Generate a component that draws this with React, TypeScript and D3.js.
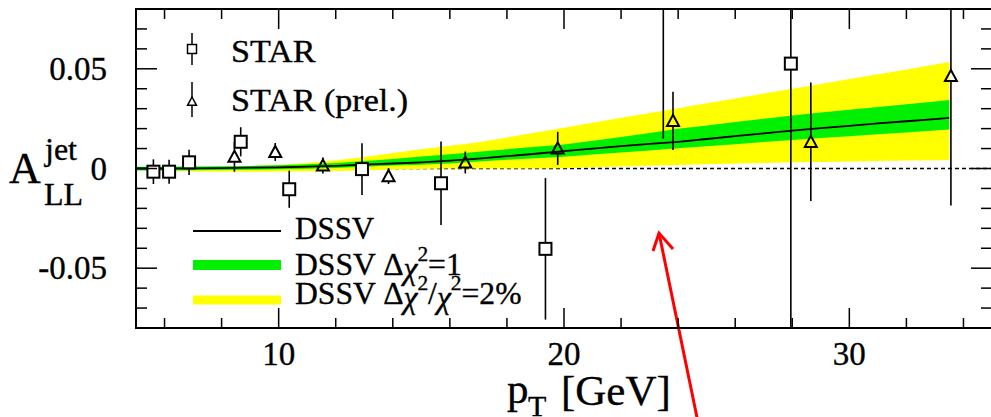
import React, { useEffect, useRef } from 'react';
import * as d3 from 'd3';

// DSSV prediction, read per GeV
const curvePt = [5, 6, 7, 8, 9, 10, 11, 12, 13, 14, 15, 16, 17, 18, 19, 20, 21, 22, 23, 24, 25, 26, 27, 28, 29, 30, 31, 32, 33, 33.5];
const curveMid = [0, 0, 0.0001, 0.0002, 0.0004, 0.0006, 0.0009, 0.0013, 0.0019, 0.0025, 0.0031, 0.004, 0.005, 0.0062, 0.0074, 0.0087, 0.01, 0.0112, 0.0123, 0.0134, 0.0148, 0.0162, 0.0176, 0.019, 0.0202, 0.0214, 0.0226, 0.0237, 0.0248, 0.0254];
const greenHi = [0.0009, 0.0009, 0.001, 0.0011, 0.0013, 0.0016, 0.0021, 0.0028, 0.0037, 0.0048, 0.006, 0.0072, 0.0084, 0.0097, 0.0109, 0.0121, 0.0139, 0.0158, 0.0178, 0.0199, 0.0216, 0.0233, 0.025, 0.0266, 0.0281, 0.0295, 0.0309, 0.0322, 0.0336, 0.0343];
const greenLo = [-0.001, -0.001, -0.0009, -0.0008, -0.0006, -0.0004, -0.0001, 0.0003, 0.0009, 0.0015, 0.0019, 0.0025, 0.0035, 0.0044, 0.0052, 0.0059, 0.007, 0.008, 0.009, 0.0101, 0.0112, 0.0122, 0.0133, 0.0143, 0.0153, 0.0162, 0.0172, 0.0181, 0.019, 0.0196];
const yellowHi = [0.0005, 0.0005, 0.0006, 0.0008, 0.0012, 0.0018, 0.0028, 0.0042, 0.0058, 0.0078, 0.0097, 0.0114, 0.0132, 0.0156, 0.0181, 0.0205, 0.0229, 0.0254, 0.0278, 0.0302, 0.0327, 0.0351, 0.0376, 0.04, 0.0424, 0.0449, 0.0473, 0.0497, 0.0522, 0.0534];
const yellowLo = [-0.0008, -0.0009, -0.0015, -0.0016, -0.0016, -0.0015, -0.0014, -0.0012, -0.001, -0.0005, -0.0002, 0, 0, 0, 0, 0.0001, 0.0006, 0.001, 0.0014, 0.0018, 0.0021, 0.0025, 0.0028, 0.0031, 0.0033, 0.0035, 0.0038, 0.004, 0.0042, 0.0043];

// STAR (squares)
const starPt = [5.61, 6.16, 6.86, 8.67, 10.37, 12.92, 15.69, 19.35, 23.48, 27.95];
const starA = [-0.0016, -0.0016, 0.0031, 0.0134, -0.0104, -0.0003, -0.0074, -0.0403, 0.105, 0.0526];
const starErr = [0.0062, 0.006, 0.0063, 0.0073, 0.0093, 0.013, 0.021, 0.0355, 0.09, 0.14];

// STAR preliminary (triangles)
const prelPt = [8.45, 9.88, 11.55, 13.85, 16.54, 19.78, 23.82, 28.65, 33.56];
const prelA = [0.0059, 0.0083, 0.0015, -0.0038, 0.003, 0.0101, 0.0239, 0.0134, 0.0464];
const prelErr = [0.0075, 0.0045, 0.004, 0.004, 0.0055, 0.0083, 0.0146, 0.0297, 0.065];

const xMajor = [10, 20, 30];
const yMajor = [-0.05, 0, 0.05];
const yMajorLabels = ['-0.05', '0', '0.05'];

const FONT = "'Liberation Serif', 'Times New Roman', serif";

const App = () => {
    const ref = useRef<SVGSVGElement>(null);

    useEffect(() => {
        const svg = d3.select(ref.current);
        svg.selectAll('*').remove();

        const left = 136, right = 992, top = 9, bottom = 328;
        const x = d3.scaleLinear().domain([5, 35]).range([left, right]);
        const y = d3.scaleLinear().domain([-0.08, 0.08]).range([bottom, top]);

        svg.append('rect').attr('width', 991).attr('height', 417).attr('fill', '#fff');

        svg.append('defs').append('clipPath').attr('id', 'plotclip')
            .append('rect').attr('x', left).attr('y', top)
            .attr('width', right - left).attr('height', bottom - top);

        const plot = svg.append('g').attr('clip-path', 'url(#plotclip)');

        // zero line
        plot.append('line')
            .attr('x1', x(5)).attr('x2', x(35))
            .attr('y1', y(0)).attr('y2', y(0))
            .attr('stroke', '#000').attr('stroke-width', 1.3)
            .attr('stroke-dasharray', '4,3');

        const idx = d3.range(curvePt.length);

        const band = (lo: number[], hi: number[]) => d3.area<number>()
            .x(i => x(curvePt[i]))
            .y0(i => y(lo[i]))
            .y1(i => y(hi[i]));

        plot.append('path').attr('d', band(yellowLo, yellowHi)(idx)).attr('fill', '#ffff00');
        plot.append('path').attr('d', band(greenLo, greenHi)(idx)).attr('fill', '#00f000');

        const mid = d3.line<number>()
            .x(i => x(curvePt[i]))
            .y(i => y(curveMid[i]));
        plot.append('path').attr('d', mid(idx))
            .attr('fill', 'none').attr('stroke', '#000').attr('stroke-width', 1.8);

        // error bars, split around the marker
        const errBars = (pt: number[], a: number[], err: number[], halfUp: number, halfDown: number) => {
            pt.forEach((p, i) => {
                const cx = x(p), cy = y(a[i]);
                const yt = y(a[i] + err[i]), yb = y(a[i] - err[i]);
                if (yt < cy - halfUp) {
                    plot.append('line').attr('x1', cx).attr('x2', cx)
                        .attr('y1', yt).attr('y2', cy - halfUp)
                        .attr('stroke', '#000').attr('stroke-width', 1.6);
                }
                if (yb > cy + halfDown) {
                    plot.append('line').attr('x1', cx).attr('x2', cx)
                        .attr('y1', cy + halfDown).attr('y2', yb)
                        .attr('stroke', '#000').attr('stroke-width', 1.6);
                }
            });
        };
        errBars(starPt, starA, starErr, 6, 6);
        errBars(prelPt, prelA, prelErr, 6, 5);

        const sq = 12;
        plot.append('g').selectAll('rect')
            .data(starPt)
            .enter().append('rect')
            .attr('x', d => x(d) - sq / 2)
            .attr('y', (d, i) => y(starA[i]) - sq / 2)
            .attr('width', sq).attr('height', sq)
            .attr('fill', '#fff').attr('stroke', '#000').attr('stroke-width', 2);

        const tri = (cx: number, cy: number, s: number) =>
            `M${cx},${cy - s}L${cx + s},${cy + s * 0.85}L${cx - s},${cy + s * 0.85}Z`;

        plot.append('g').selectAll('path')
            .data(prelPt)
            .enter().append('path')
            .attr('d', (d, i) => tri(x(d), y(prelA[i]), 6))
            .attr('fill', 'none').attr('stroke', '#000').attr('stroke-width', 2);

        // red annotation arrow
        const tipX = x(23.33), tipY = y(-0.0324);
        const arrow = svg.append('g').attr('stroke', '#f00').attr('stroke-width', 3).attr('fill', 'none');
        arrow.append('line').attr('x1', x(24.75)).attr('y1', y(-0.131)).attr('x2', tipX).attr('y2', tipY);
        arrow.append('path').attr('d', `M${tipX - 6},${tipY + 18}L${tipX},${tipY}L${tipX + 14},${tipY + 16}`);

        // axes: ticks on all four sides, pointing inward
        const tick = svg.append('g').attr('stroke', '#000').attr('stroke-width', 1.5);
        const xMinor = d3.range(6, 35, 2).filter(v => !xMajor.includes(v));
        const yMinor = d3.range(-7, 8).map(v => v / 100).filter(v => !yMajor.some(m => Math.abs(m - v) < 1e-9));

        const xt = (vals: number[], len: number) => {
            vals.forEach(v => {
                tick.append('line').attr('x1', x(v)).attr('x2', x(v)).attr('y1', bottom).attr('y2', bottom - len);
                tick.append('line').attr('x1', x(v)).attr('x2', x(v)).attr('y1', top).attr('y2', top + len);
            });
        };
        const yt = (vals: number[], len: number) => {
            vals.forEach(v => {
                tick.append('line').attr('y1', y(v)).attr('y2', y(v)).attr('x1', left).attr('x2', left + len);
                tick.append('line').attr('y1', y(v)).attr('y2', y(v)).attr('x1', right).attr('x2', right - len);
            });
        };
        xt(xMajor, 20);
        xt(xMinor, 10);
        yt(yMajor, 21);
        yt(yMinor, 11);

        svg.append('rect')
            .attr('x', left).attr('y', top)
            .attr('width', right - left).attr('height', bottom - top)
            .attr('fill', 'none').attr('stroke', '#000').attr('stroke-width', 2);

        const labels = svg.append('g')
            .attr('font-family', FONT)
            .attr('fill', '#000')
            .attr('stroke', '#000')
            .attr('stroke-width', 0.35);

        labels.selectAll('text.xl')
            .data(xMajor)
            .enter().append('text')
            .attr('x', d => x(d)).attr('y', 365)
            .attr('text-anchor', 'middle')
            .attr('font-size', 33)
            .text(d => d);

        labels.selectAll('text.yl')
            .data(yMajor)
            .enter().append('text')
            .attr('x', 107).attr('y', d => y(d))
            .attr('dy', '0.34em')
            .attr('text-anchor', 'end')
            .attr('font-size', 33)
            .text((d, i) => yMajorLabels[i]);

        // axis titles
        labels.append('text').attr('x', 9).attr('y', 183).attr('font-size', 44).text('A');
        labels.append('text').attr('x', 45).attr('y', 160).attr('font-size', 32).text('jet');
        labels.append('text').attr('x', 44).attr('y', 205).attr('font-size', 32).text('LL');

        labels.append('text').attr('x', 507).attr('y', 403).attr('font-size', 43).text('p');
        labels.append('text').attr('x', 528).attr('y', 416).attr('font-size', 30).text('T');
        labels.append('text').attr('x', 561).attr('y', 405).attr('font-size', 43).text('[GeV]');

        // legend: data markers
        const lg = svg.append('g');
        const lx = 192;
        lg.append('line').attr('x1', lx).attr('x2', lx).attr('y1', 33).attr('y2', 65)
            .attr('stroke', '#000').attr('stroke-width', 1.5);
        lg.append('rect').attr('x', lx - 4.5).attr('y', 44.5).attr('width', 9).attr('height', 9)
            .attr('fill', '#fff').attr('stroke', '#000').attr('stroke-width', 1.5);
        lg.append('line').attr('x1', lx).attr('x2', lx).attr('y1', 82).attr('y2', 97)
            .attr('stroke', '#000').attr('stroke-width', 1.5);
        lg.append('line').attr('x1', lx).attr('x2', lx).attr('y1', 106).attr('y2', 117)
            .attr('stroke', '#000').attr('stroke-width', 1.5);
        lg.append('path').attr('d', tri(lx, 101.5, 4.5))
            .attr('fill', 'none').attr('stroke', '#000').attr('stroke-width', 1.5);

        const legText = (tx: number, ty: number, sx: number) => labels.append('text')
            .attr('transform', `translate(${tx},${ty}) scale(${sx},1)`)
            .attr('font-size', 31);

        legText(231, 62, 1.1).text('STAR');
        legText(231, 111, 1.1).text('STAR (prel.)');

        // legend: DSSV
        lg.append('line').attr('x1', 193).attr('x2', 281).attr('y1', 231).attr('y2', 231)
            .attr('stroke', '#000').attr('stroke-width', 2);
        lg.append('line').attr('x1', 193).attr('x2', 281).attr('y1', 265).attr('y2', 265)
            .attr('stroke', '#00f000').attr('stroke-width', 10);
        lg.append('line').attr('x1', 193).attr('x2', 281).attr('y1', 300).attr('y2', 300)
            .attr('stroke', '#ffff00').attr('stroke-width', 9);

        legText(295, 239, 1).text('DSSV');

        const t2 = legText(295, 275, 1.02);
        t2.append('tspan').text('DSSV \u0394');
        t2.append('tspan').attr('font-style', 'italic').attr('dy', 4).text('\u03c7');
        t2.append('tspan').attr('dy', -18).attr('font-size', 21).text('2');
        t2.append('tspan').attr('dy', 14).text('=1');

        const t3 = legText(295, 304, 1.02);
        t3.append('tspan').text('DSSV \u0394');
        t3.append('tspan').attr('font-style', 'italic').attr('dy', 4).text('\u03c7');
        t3.append('tspan').attr('dy', -18).attr('font-size', 21).text('2');
        t3.append('tspan').attr('dy', 14).text('/');
        t3.append('tspan').attr('font-style', 'italic').attr('dy', 4).text('\u03c7');
        t3.append('tspan').attr('dy', -18).attr('font-size', 21).text('2');
        t3.append('tspan').attr('dy', 14).text('=2%');
    });

    return (
        <svg ref={ref} width={991} height={417}
            style={{ position: 'absolute', left: 0, top: 0, display: 'block' }} />
    );
};

export default App;
